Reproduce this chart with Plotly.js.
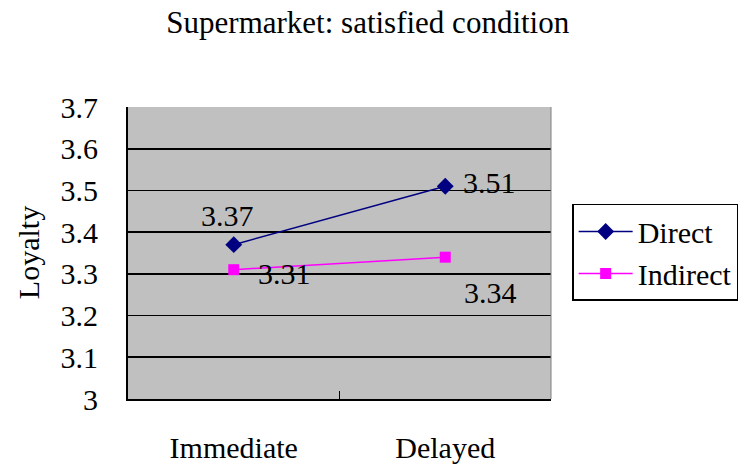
<!DOCTYPE html>
<html>
<head>
<meta charset="utf-8">
<script src="https://cdn.plot.ly/plotly-3.0.1.min.js"></script>
<style>html,body{margin:0;padding:0;background:#fff;}#chart{width:746px;height:470px;}</style>
</head>
<body>
<div id="chart"></div>
<script>
const categories = ["Immediate", "Delayed"];
const directValues = [3.37, 3.51];
const indirectValues = [3.31, 3.34];
const yTickValues = [3, 3.1, 3.2, 3.3, 3.4, 3.5, 3.6, 3.7];
const yTickLabels = ["3", "3.1", "3.2", "3.3", "3.4", "3.5", "3.6", "3.7"];
const yAxisTitle = "Loyalty";

const FONT = "Liberation Serif";
const FS = 30;

const traces = [
  {
    x: categories, y: directValues, name: "Direct", type: "scatter", mode: "lines+markers",
    line: {color: "#000080", width: 1.5},
    marker: {symbol: "diamond", size: 13, color: "#000080"}
  },
  {
    x: categories, y: indirectValues, name: "Indirect", type: "scatter", mode: "lines+markers",
    line: {color: "#FF00FF", width: 1.5},
    marker: {symbol: "square", size: 11, color: "#FF00FF"}
  }
];

// data label offsets (pixels) per series/point
const directShift = [[-6, 29], [44, 4]];
const indirectShift = [[51, -4], [45, -35]];
const annotations = [];
categories.forEach((c, i) => {
  annotations.push({x: c, y: directValues[i], xref: "x", yref: "y", text: directValues[i].toFixed(2),
    showarrow: false, xshift: directShift[i][0], yshift: directShift[i][1], font: {family: FONT, size: FS, color: "#000"}});
  annotations.push({x: c, y: indirectValues[i], xref: "x", yref: "y", text: indirectValues[i].toFixed(2),
    showarrow: false, xshift: indirectShift[i][0], yshift: indirectShift[i][1], font: {family: FONT, size: FS, color: "#000"}});
});
// y-axis title
annotations.push({x: -0.236, y: 0.5, xref: "paper", yref: "paper", text: yAxisTitle, textangle: -90,
  showarrow: false, xanchor: "center", yanchor: "middle", font: {family: FONT, size: FS, color: "#000"}});

const layout = {
  width: 746, height: 470,
  margin: {l: 128, r: 195, t: 107, b: 71, pad: 0, autoexpand: false},
  paper_bgcolor: "#fff",
  plot_bgcolor: "#C0C0C0",
  font: {family: FONT, size: FS, color: "#000"},
  title: {text: "Supermarket: satisfied condition", x: 0.493, xanchor: "center", y: 0.953, yanchor: "middle",
    font: {family: FONT, size: 31, color: "#000"}},
  xaxis: {
    type: "category", range: [-0.5, 1.5], automargin: false,
    showgrid: false, zeroline: false,
    showline: true, linecolor: "#000", linewidth: 2,
    ticks: "inside", ticklen: 8, tickcolor: "#000", tickwidth: 1.5,
    tickson: "boundaries",
    ticklabelstandoff: 21,
    tickfont: {family: FONT, size: FS, color: "#000"}
  },
  yaxis: {
    range: [3, 3.7], tickvals: yTickValues, ticktext: yTickLabels, automargin: false,
    showgrid: true, gridcolor: "#000", gridwidth: 1.8,
    zeroline: false,
    showline: true, linecolor: "#000", linewidth: 2,
    ticks: "", ticklabelstandoff: 22,
    tickfont: {family: FONT, size: FS, color: "#000"}
  },
  shapes: [
    {type: "line", xref: "paper", yref: "paper", x0: 1, x1: 1, y0: 0, y1: 1, line: {color: "#808080", width: 1}}
  ],
  legend: {
    x: 1.05, xanchor: "left", y: 0.668, yanchor: "top",
    bgcolor: "#fff", bordercolor: "#000", borderwidth: 1.5,
    font: {family: FONT, size: FS, color: "#000"},
    itemwidth: 54, tracegroupgap: 0
  },
  annotations: annotations,
  showlegend: true
};

Plotly.newPlot("chart", traces, layout, {displayModeBar: false, staticPlot: true});
</script>
</body>
</html>
